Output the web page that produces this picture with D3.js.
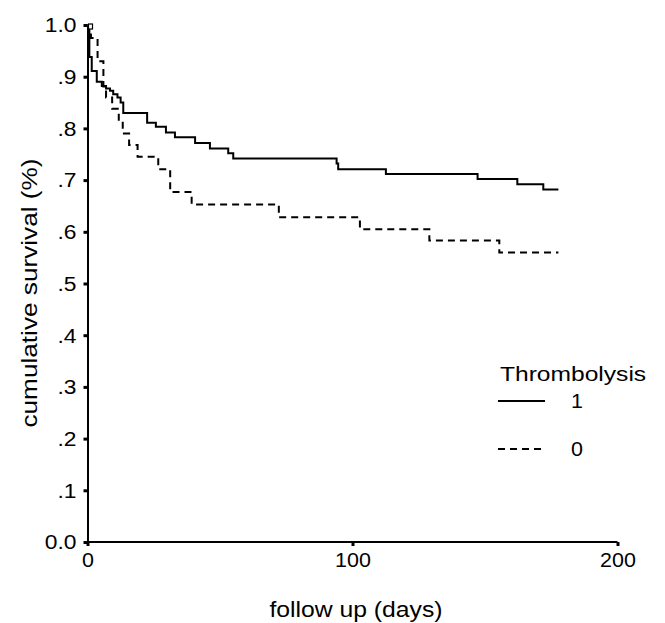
<!DOCTYPE html>
<html lang="en">
<head>
  <meta charset="UTF-8">
  <title>Cumulative survival by thrombolysis</title>
  <script src="https://d3js.org/d3.v7.min.js"></script>
  <style>
    body { margin: 0; background: #fff; }
    svg { display: block; }
    text { font-family: "Liberation Sans", Arial, Helvetica, sans-serif; fill: #000; }
    .axis path { stroke: #000; stroke-width: 2px; }
    .axis line { stroke: #000; stroke-width: 3px; }
  </style>
</head>
<body>
  <svg id="chart"></svg>

  <script>
    // data (days, survival fraction)
    const solidDays = [0, 0.7, 1.6, 3.5, 5.4, 7.0, 8.5, 9.7, 11.3, 12.5, 13.5, 22.5, 25.8, 29.6, 33.0, 40.6, 46.2, 53.1, 55.0, 94.0, 94.6, 112.6, 147.2, 162.2, 172.0, 177.7];
    const solidSurv = [1.0, 0.938, 0.911, 0.890, 0.882, 0.877, 0.873, 0.866, 0.860, 0.850, 0.830, 0.811, 0.803, 0.792, 0.783, 0.772, 0.761, 0.752, 0.742, 0.732, 0.721, 0.712, 0.702, 0.692, 0.682, 0.682];

    const dashDays = [0, 1.3, 3.8, 6.0, 7.0, 9.3, 11.8, 13.3, 15.7, 18.9, 26.7, 31.2, 39.3, 72.2, 102.8, 129.0, 155.4, 177.7];
    const dashSurv = [1.0, 0.975, 0.930, 0.881, 0.860, 0.838, 0.813, 0.790, 0.768, 0.745, 0.721, 0.677, 0.653, 0.628, 0.605, 0.583, 0.560, 0.560];

    const xTicks = [0, 100, 200];
    const yTicks = [0, 0.1, 0.2, 0.3, 0.4, 0.5, 0.6, 0.7, 0.8, 0.9, 1.0];
    const yTickLabels = ["0.0", ".1", ".2", ".3", ".4", ".5", ".6", ".7", ".8", ".9", "1.0"];
    const legendTitle = "Thrombolysis";
    const groups = ["1", "0"];

    const width = 665, height = 623;
    const svg = d3.select("#chart").attr("width", width).attr("height", height);

    const x = d3.scaleLinear().domain([0, 200]).range([87.5, 617.5]);
    const y = d3.scaleLinear().domain([0, 1]).range([542, 25]);

    // the original lettering is wider than Arial, so stretch it a bit
    function stretch(sel, sx, px, py, rot) {
      sel.attr("x", 0).attr("y", 0)
        .attr("transform", `translate(${px},${py})` + (rot ? ` rotate(${rot})` : "") + ` scale(${sx},1)`);
    }

    // axes
    const yAxis = d3.axisLeft(y)
      .tickValues(yTicks)
      .tickFormat((d, i) => yTickLabels[i])
      .tickSize(4).tickSizeOuter(0).tickPadding(7);
    const gy = svg.append("g").attr("class", "axis").attr("transform", `translate(${x(0)},0)`).call(yAxis);
    gy.selectAll("text")
      .style("font-size", "19.5px")
      .attr("dy", null)
      .attr("dominant-baseline", "central")
      .each(function() { stretch(d3.select(this), 1.17, -11, 0); });

    const xAxis = d3.axisBottom(x)
      .tickValues(xTicks)
      .tickSize(4).tickSizeOuter(0).tickPadding(7);
    const gx = svg.append("g").attr("class", "axis").attr("transform", `translate(0,${y(0)})`).call(xAxis);
    gx.selectAll("text")
      .style("font-size", "19.5px")
      .attr("dy", null)
      .each(function() { stretch(d3.select(this), 1.1, 0, 25); });
    gx.select(".domain").attr("d", `M${x(0) - 1.5},0H${x(200)}`);

    // axis titles
    svg.append("text").attr("text-anchor", "middle").style("font-size", "21.5px")
      .text("follow up (days)")
      .call(stretch, 1.15, 356, 617);

    svg.append("text").attr("text-anchor", "middle").style("font-size", "22px")
      .text("cumulative survival (%)")
      .call(stretch, 1.19, 37, 293, -90);

    // survival curves
    const line = d3.line()
      .x(d => x(d[0]))
      .y(d => y(d[1]))
      .curve(d3.curveStepAfter);

    const series = [
      { name: groups[0], pts: d3.zip(solidDays, solidSurv), dash: null },
      { name: groups[1], pts: d3.zip(dashDays, dashSurv), dash: "7,5" }
    ];

    svg.append("g").selectAll("path").data(series).join("path")
      .attr("d", d => line(d.pts))
      .attr("fill", "none")
      .attr("stroke", "#000")
      .attr("stroke-width", 2)
      .attr("stroke-dasharray", d => d.dash);

    // little open box at the start of the curves
    svg.append("rect")
      .attr("x", x(0) + 1).attr("y", y(1) - 1)
      .attr("width", 4).attr("height", 5)
      .attr("fill", "#fff").attr("stroke", "#000").attr("stroke-width", 1.2);

    // legend
    const legend = svg.append("g");
    legend.append("text").style("font-size", "20.5px")
      .text(legendTitle)
      .call(stretch, 1.2, 500, 381);

    const item = legend.selectAll("g.item").data(series).join("g")
      .attr("class", "item")
      .attr("transform", (d, i) => `translate(0,${401 + i * 48})`);
    item.append("line")
      .attr("x1", 498).attr("x2", 545)
      .attr("stroke", "#000").attr("stroke-width", 2)
      .attr("stroke-dasharray", d => d.dash);
    item.append("text").style("font-size", "19.5px")
      .attr("text-anchor", "middle")
      .text(d => d.name)
      .each(function() { stretch(d3.select(this), 1.1, 577, 7); });
  </script>
</body>
</html>
